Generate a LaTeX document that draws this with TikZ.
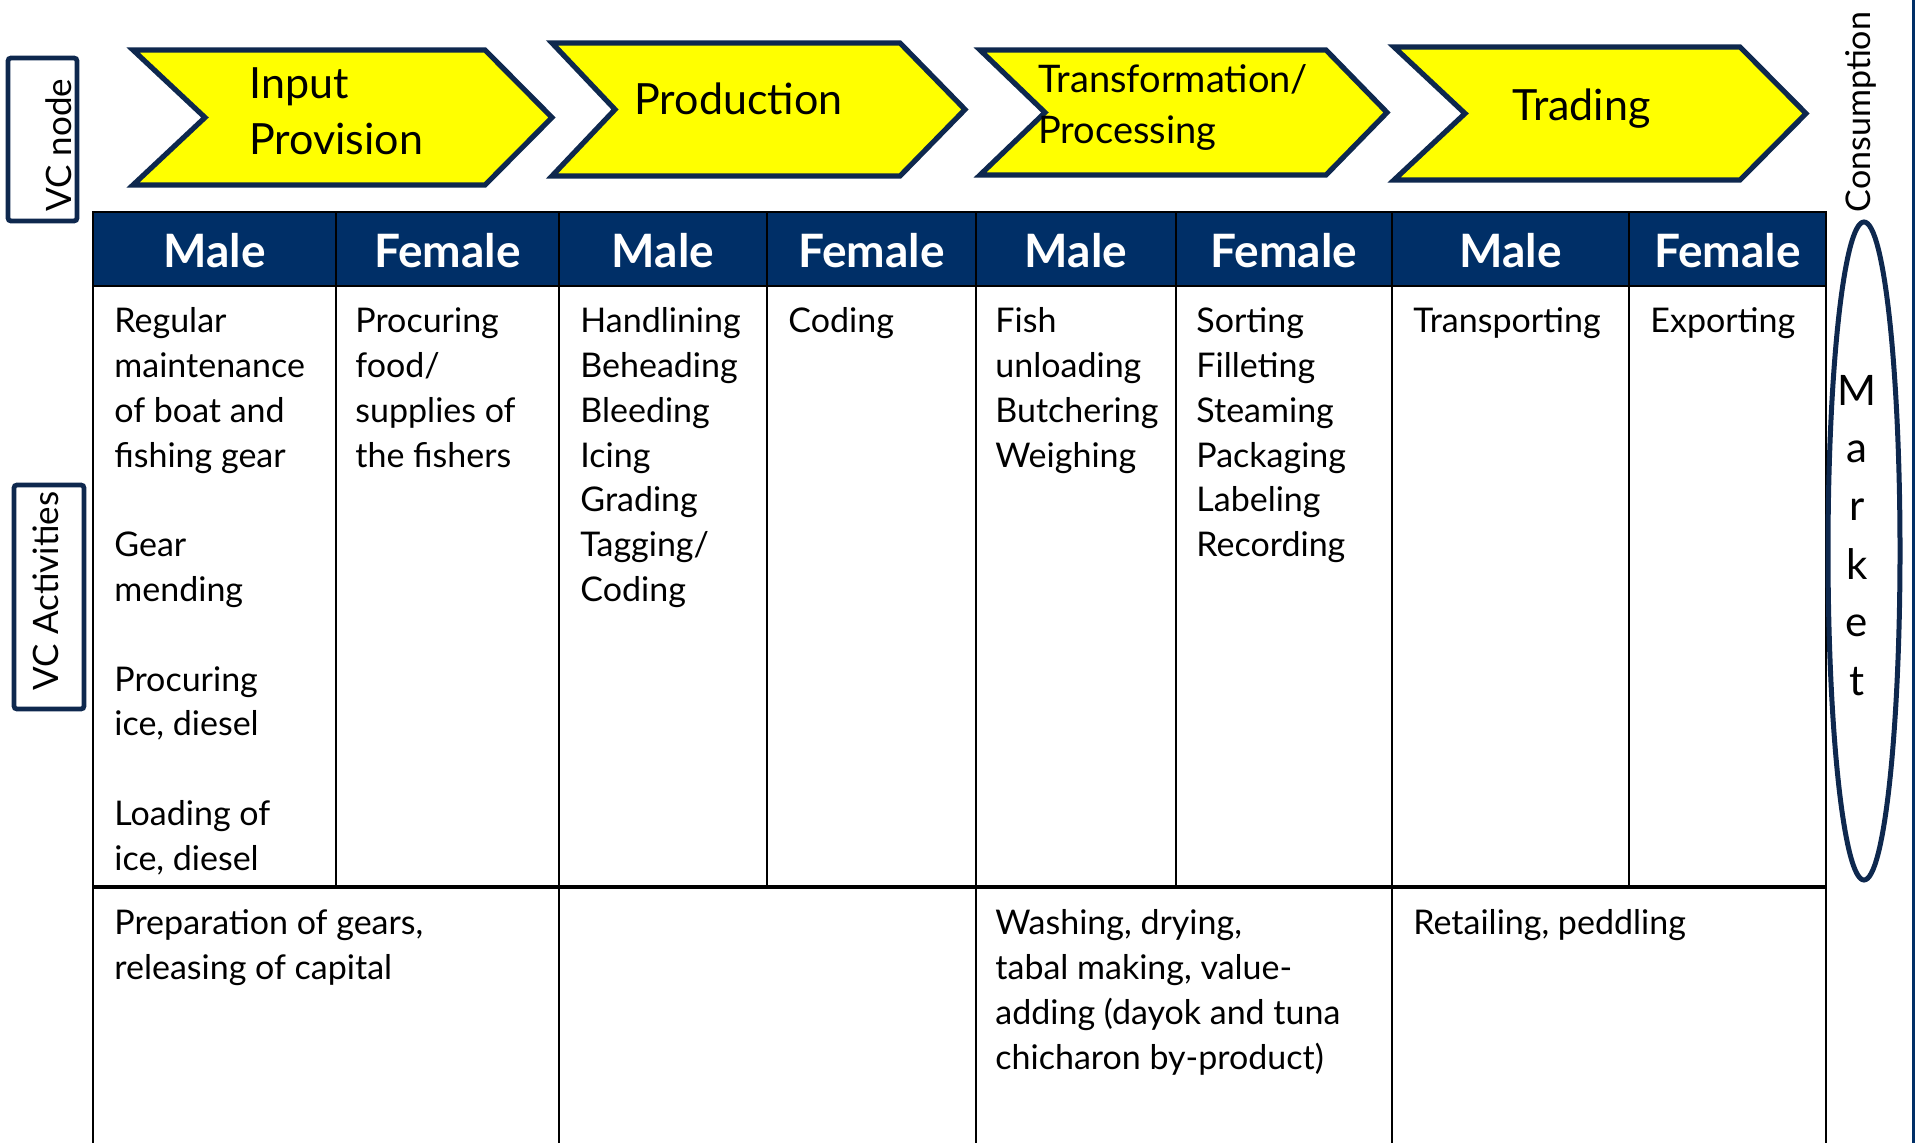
\documentclass[tikz,border=0pt]{standalone}
\usepackage{fontspec}
\setmainfont{Lato}
\usetikzlibrary{positioning}
\definecolor{vcnavy}{RGB}{0,47,103}
\definecolor{vcedge}{RGB}{14,40,78}
\definecolor{vcyellow}{RGB}{255,255,0}
\tikzset{
  chevron/.style={draw=vcedge, line width=2.6pt, fill=vcyellow, line join=miter},
  stagetext/.style={inner sep=0pt, align=left, font=\fontsize{21.5}{28}\selectfont},
  sexhead/.style={text=white, inner sep=0pt, font=\fontsize{23}{27}\selectfont\bfseries},
  cell/.style={anchor=north west, inner sep=0pt, align=left, font=\fontsize{17}{22.4}\selectfont},
  sidebox/.style={draw=vcedge, line width=2.4pt, rounded corners=1.5pt},
  sidelabel/.style={rotate=90, anchor=base, inner sep=0pt, font=\fontsize{17.5}{21}\selectfont},
  gridline/.style={line width=1pt},
}

\begin{document}
\begin{tikzpicture}[x=0.5pt,y=-0.5pt]
    \useasboundingbox (0,0) rectangle (1915,1143);

    % VC nodes (chevrons)
    \foreach \l/\t/\b/\n/\c/\p in {133/50/185/205/485/552, 552/43/176/615/900/965,
                                   980/50/175/1045/1326/1387, 1394/47/180/1465/1740/1806} {
        \draw[chevron] (\l,\t) -- (\c,\t) -- (\p,{(\t+\b)/2}) -- (\c,\b) -- (\l,\b) -- (\n,{(\t+\b)/2}) -- cycle;
    }
    \node[stagetext,anchor=north west] (input) at (249,59) {\strut Input\\Provision};
    \node[stagetext,anchor=base west] (production) at (634,115) {Production};
    \node[stagetext,anchor=north west,font=\fontsize{19}{25.5}\selectfont] (transform) at (1038,56) {\strut Transformation/\\Processing};
    \node[stagetext,anchor=base west] (trading) at (1512,121) {Trading};

    % Side labels
    \draw[sidebox] (8,58) rectangle (77,221);
    \node[sidelabel] (vcnode) at (71,145) {VC node};
    \draw[sidebox] (14,485) rectangle (84,709);
    \node[sidelabel] (vcact) at (58,591) {VC Activities};

    % Table
    \fill[vcnavy] (93,212) rectangle (1826,286);
    \draw[gridline] (93,1143) -- (93,212) -- (1826,212) -- (1826,1143);
    \draw[gridline] (93,286) -- (1826,286);
    \draw[line width=1.75pt] (93,887) -- (1826,887);
    \foreach \x in {336,559,767,976,1176,1392,1629} {
        \draw[gridline] (\x,212) -- (\x,887);
    }
    \foreach \x in {559,976,1392} {
        \draw[gridline] (\x,887) -- (\x,1143);
    }
    \foreach \l/\r/\s [count=\i] in {93/336/Male, 336/559/Female, 559/767/Male, 767/976/Female,
                                     976/1176/Male, 1176/1392/Female, 1392/1629/Male, 1629/1826/Female} {
        \node[sexhead] (head\i) at ({(\l+\r)/2},251) {\s};
    }

    % Activities
    \node[cell] (inputmale) at (114,301) {\strut Regular\\maintenance\\of boat and\\fishing gear\\[22.4pt]Gear\\mending\\[22.4pt]Procuring\\ice, diesel\\[22.4pt]Loading of\\ice, diesel};
    \node[cell] (inputfemale) at (355,301) {\strut Procuring\\food/\\supplies of\\the fishers};
    \node[cell] (prodmale) at (580,301) {\strut Handlining\\Beheading\\Bleeding\\Icing\\Grading\\Tagging/\\Coding};
    \node[cell] (prodfemale) at (788,301) {\strut Coding};
    \node[cell] (transmale) at (995,301) {\strut Fish\\unloading\\Butchering\\Weighing};
    \node[cell] (transfemale) at (1196,301) {\strut Sorting\\Filleting\\Steaming\\Packaging\\Labeling\\Recording};
    \node[cell] (trademale) at (1413,301) {\strut Transporting};
    \node[cell] (tradefemale) at (1650,301) {\strut Exporting};

    % Bottom row
    \node[cell] (inputboth) at (114,903) {\strut Preparation of gears,\\releasing of capital};
    \node[cell] (transboth) at (995,903) {\strut Washing, drying,\\tabal making, value-\\adding (dayok and tuna\\chicharon by-product)};
    \node[cell] (tradeboth) at (1413,903) {\strut Retailing, peddling};

    % Market and consumption
    \node[sidelabel,font=\fontsize{17}{20}\selectfont] (consumption) at (1870,112) {Consumption};
    \draw[vcedge,line width=2.5pt] (1864,551) ellipse [x radius=36, y radius=329];
    \node[anchor=north,inner sep=0pt,align=center,font=\fontsize{21}{29}\selectfont] (market) at (1857,364) {\strut M\\a\\r\\k\\e\\t};
    \draw[vcnavy,line width=1.5pt] (1913,0) -- (1913,1143);
\end{tikzpicture}
\end{document}
